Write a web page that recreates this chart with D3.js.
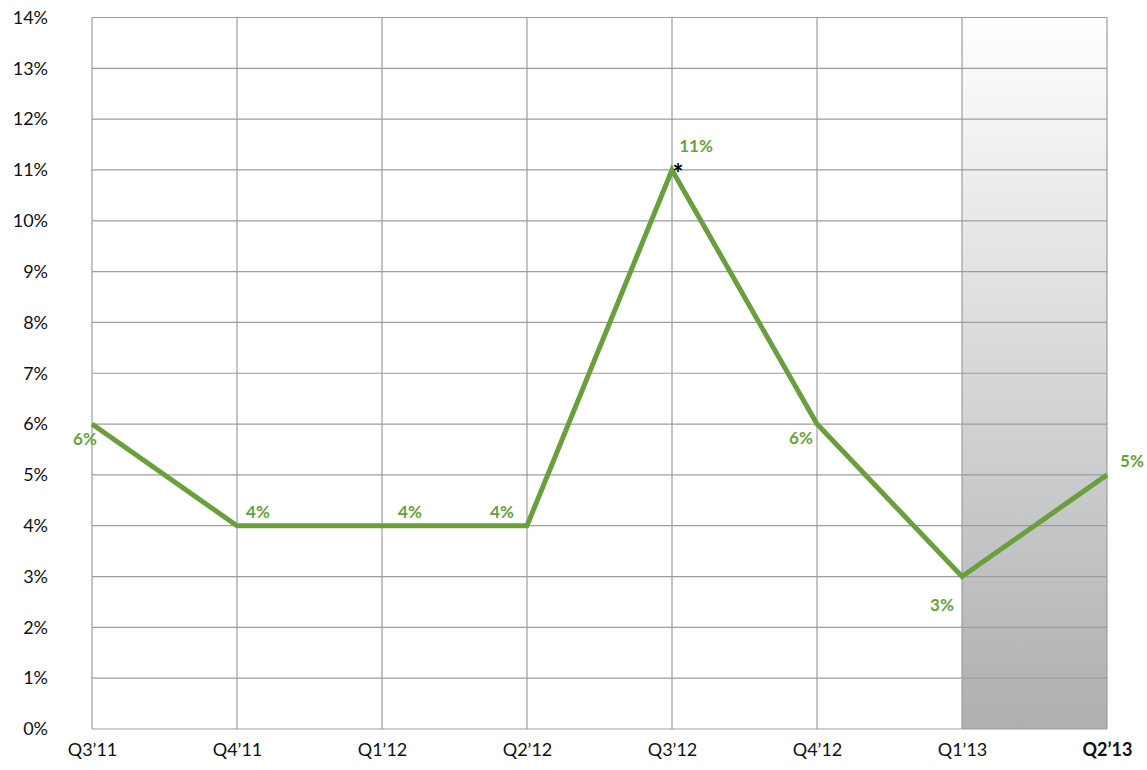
<!DOCTYPE html>
<html>
<head>
<meta charset="UTF-8">
<script src="https://d3js.org/d3.v7.min.js"></script>
<style>
  body { margin: 0; background: #fff; }
  text { font-family: Lato, "Open Sans", sans-serif; }
</style>
</head>
<body>
<svg width="1147" height="770"></svg>
<script>
const quarters = ["Q3’11", "Q4’11", "Q1’12", "Q2’12", "Q3’12", "Q4’12", "Q1’13", "Q2’13"];
const values = [6, 4, 4, 4, 11, 6, 3, 5];
const yTicks = d3.range(0, 15);
// label offsets relative to each point (dx, dy)
const labelPos = [
  [-7, 21], [21, -8], [28, -8], [-25, -8],
  [24, -18], [-16, 20], [-20, 34], [25, -8]
];

const margin = { top: 17.5, right: 40, bottom: 41, left: 92 };
const width = 1107 - margin.left, height = 729 - margin.top;

const svg = d3.select("svg");
const defs = svg.append("defs");
const grad = defs.append("linearGradient").attr("id", "shade").attr("x1", 0).attr("y1", 0).attr("x2", 0).attr("y2", 1);
grad.append("stop").attr("offset", "0%").attr("stop-color", "#ffffff");
grad.append("stop").attr("offset", "100%").attr("stop-color", "#aeafb1");

const g = svg.append("g").attr("transform", `translate(${margin.left},${margin.top})`);

const x = d3.scalePoint().domain(quarters).range([0, width]);
const y = d3.scaleLinear().domain([0, 14]).range([height, 0]);

// shaded region for latest quarter
g.append("rect")
  .attr("x", x("Q1’13")).attr("y", 0)
  .attr("width", x("Q2’13") - x("Q1’13")).attr("height", height)
  .attr("fill", "url(#shade)");

// grid
g.selectAll(".hgrid").data(yTicks).enter().append("line")
  .attr("x1", 0).attr("x2", width)
  .attr("y1", d => y(d)).attr("y2", d => y(d))
  .attr("stroke", "#9d9d9d").attr("stroke-width", 1.2);
g.selectAll(".vgrid").data(quarters).enter().append("line")
  .attr("x1", d => x(d)).attr("x2", d => x(d))
  .attr("y1", 0).attr("y2", height)
  .attr("stroke", "#9d9d9d").attr("stroke-width", 1.2);

// y axis labels
const yAxis = g.append("g").call(d3.axisLeft(y).tickValues(yTicks).tickFormat(d => d + "%").tickSize(0).tickPadding(44));
yAxis.select(".domain").remove();
yAxis.selectAll("text").attr("font-size", 18).attr("fill", "#111").attr("font-family", "Lato, sans-serif");

// x axis labels
const xAxis = g.append("g").attr("transform", `translate(0,${height})`)
  .call(d3.axisBottom(x).tickSize(0).tickPadding(14));
xAxis.select(".domain").remove();
xAxis.selectAll("text").attr("font-size", 18).attr("fill", "#111").attr("font-family", "Lato, sans-serif")
  .attr("font-weight", d => d === "Q2’13" ? "bold" : "normal");

// line
const data = quarters.map((q, i) => ({ q, v: values[i] }));
g.append("path").datum(data)
  .attr("fill", "none").attr("stroke", "#6a9f3d").attr("stroke-width", 5)
  .attr("stroke-linejoin", "miter")
  .attr("d", d3.line().x(d => x(d.q)).y(d => y(d.v)));

// value labels
g.selectAll(".vlabel").data(data).enter().append("text")
  .attr("x", (d, i) => x(d.q) + labelPos[i][0])
  .attr("y", (d, i) => y(d.v) + labelPos[i][1])
  .attr("text-anchor", "middle")
  .attr("font-size", 17).attr("font-weight", "bold").attr("fill", "#6a9f3d")
  .text(d => d.v + "%");

// asterisk
g.append("text").attr("x", x("Q3’12") + 6).attr("y", y(11) + 13)
  .attr("text-anchor", "middle").attr("font-size", 26).attr("font-weight", "bold").attr("fill", "#000")
  .text("*");
</script>
</body>
</html>
